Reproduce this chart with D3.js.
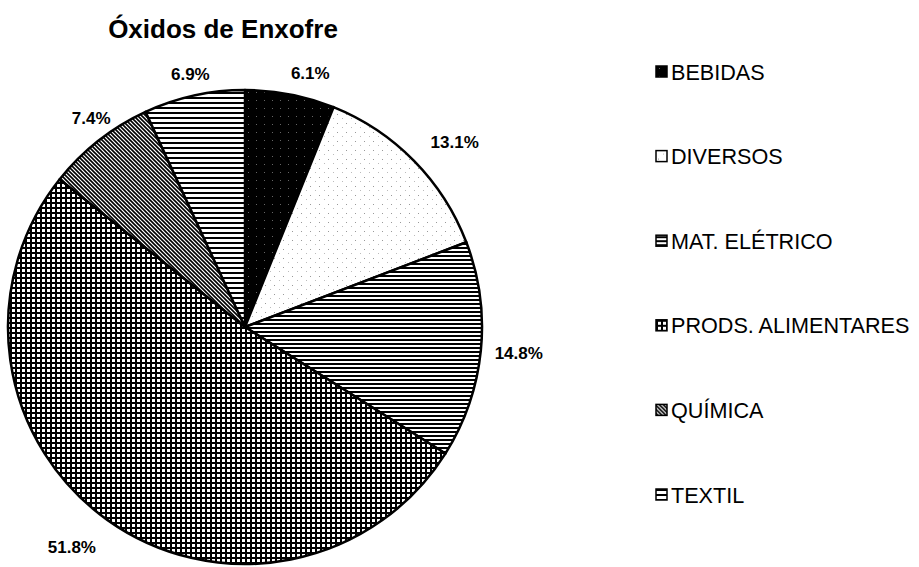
<!DOCTYPE html>
<html>
<head>
<meta charset="utf-8">
<script src="https://cdn.jsdelivr.net/npm/d3@7"></script>
<style>
  body { margin: 0; background: #fff; }
  svg { display: block; font-family: "Liberation Sans", Arial, sans-serif; }
</style>
</head>
<body>
<svg id="grafico" width="919" height="567"></svg>
<script>
const categorias = ["BEBIDAS", "DIVERSOS", "MAT. ELÉTRICO", "PRODS. ALIMENTARES", "QUÍMICA", "TEXTIL"];
const valores = [6.1, 13.1, 14.8, 51.8, 7.4, 6.9];
const rotulos = ["6.1%", "13.1%", "14.8%", "51.8%", "7.4%", "6.9%"];
const padroes = ["p_bebidas", "p_diversos", "p_mat", "p_prods", "p_quimica", "p_textil"];

const svg = d3.select("#grafico");
const defs = svg.append("defs");

// padroes de preenchimento (estilo impressora)
function criar_padrao(id, w, h, desenhar) {
  const p = defs.append("pattern")
    .attr("id", id)
    .attr("patternUnits", "userSpaceOnUse")
    .attr("width", w).attr("height", h)
    .attr("shape-rendering", "crispEdges");
  desenhar(p);
}

criar_padrao("p_bebidas", 8, 8, p => {
  p.append("rect").attr("width", 8).attr("height", 8).attr("fill", "#000");
  p.append("rect").attr("x", 3).attr("y", 5).attr("width", 1).attr("height", 1).attr("fill", "#666");
});
criar_padrao("p_diversos", 9, 9, p => {
  p.append("rect").attr("width", 9).attr("height", 9).attr("fill", "#fff");
  p.append("rect").attr("x", 2).attr("y", 3).attr("width", 1).attr("height", 1).attr("fill", "#999");
  p.append("rect").attr("x", 7).attr("y", 7).attr("width", 1).attr("height", 1).attr("fill", "#bbb");
});
criar_padrao("p_mat", 4, 4, p => {
  p.append("rect").attr("width", 4).attr("height", 4).attr("fill", "#fff");
  p.append("rect").attr("width", 4).attr("height", 2).attr("fill", "#000");
});
criar_padrao("p_prods", 5, 5, p => {
  p.append("rect").attr("width", 5).attr("height", 5).attr("fill", "#fff");
  p.append("rect").attr("width", 5).attr("height", 2).attr("fill", "#000");
  p.append("rect").attr("width", 2).attr("height", 5).attr("fill", "#000");
});
criar_padrao("p_quimica", 4, 4, p => {
  p.append("rect").attr("width", 4).attr("height", 4).attr("fill", "#fff");
  p.append("path").attr("d", "M-1,-1 L5,5 M-1,3 L1,5 M3,-1 L5,1")
    .attr("stroke", "#000").attr("stroke-width", 1.6)
    .attr("shape-rendering", "auto");
});
criar_padrao("p_textil", 5, 5, p => {
  p.append("rect").attr("width", 5).attr("height", 5).attr("fill", "#fff");
  p.append("rect").attr("width", 5).attr("height", 1.5).attr("fill", "#000");
});

// titulo
svg.append("text")
  .attr("x", 223).attr("y", 38)
  .attr("text-anchor", "middle")
  .attr("font-size", 26).attr("font-weight", "bold")
  .text("Óxidos de Enxofre");

// pizza
const cx = 245, cy = 327, raio = 237;
const pie = d3.pie().sort(null).value(d => d);
const arco = d3.arc().innerRadius(0).outerRadius(raio);
const arcos = pie(valores);

const g = svg.append("g").attr("transform", `translate(${cx},${cy})`);
g.selectAll("path.fatia")
  .data(arcos)
  .enter()
  .append("path")
  .attr("class", "fatia")
  .attr("d", arco)
  .attr("fill", (d, i) => `url(#${padroes[i]})`)
  .attr("stroke", "#000")
  .attr("stroke-width", 2.5)
  .attr("stroke-linejoin", "round");

// rotulos de percentagem
const arco_rotulo = d3.arc().innerRadius(raio + 22).outerRadius(raio + 22);
const ajustes = [[16, 1], [25, -3], [16, 1], [-23, 9], [6, -5], [1, 0]];
g.selectAll("text.rotulo")
  .data(arcos)
  .enter()
  .append("text")
  .attr("class", "rotulo")
  .attr("x", (d, i) => arco_rotulo.centroid(d)[0] + ajustes[i][0])
  .attr("y", (d, i) => arco_rotulo.centroid(d)[1] + ajustes[i][1])
  .attr("text-anchor", "middle")
  .attr("dominant-baseline", "central")
  .attr("font-size", 17).attr("font-weight", "bold")
  .text((d, i) => rotulos[i]);

// legenda
const y_leg = d3.scalePoint().domain(categorias).range([71, 494]);
const leg = svg.append("g").selectAll("g")
  .data(categorias)
  .enter()
  .append("g")
  .attr("transform", d => `translate(656,${y_leg(d)})`);

leg.append("rect")
  .attr("x", 0).attr("y", -5)
  .attr("width", 11).attr("height", 11)
  .attr("fill", (d, i) => `url(#${padroes[i]})`)
  .attr("stroke", "#000").attr("stroke-width", 1.5);

leg.append("text")
  .attr("x", 15).attr("y", 1)
  .attr("dominant-baseline", "central")
  .attr("font-size", 21.6)
  .text(d => d);
</script>
</body>
</html>
